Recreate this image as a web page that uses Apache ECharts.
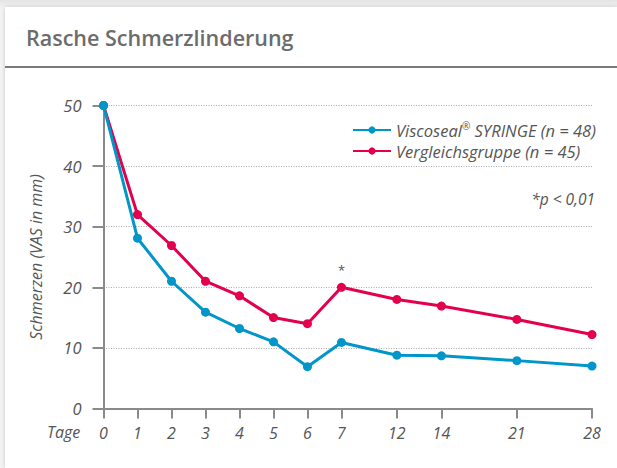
<!DOCTYPE html>
<html>
<head>
<meta charset="utf-8">
<script src="https://cdn.jsdelivr.net/npm/echarts@6/dist/echarts.min.js"></script>
<style>
  html, body { margin: 0; padding: 0; width: 617px; height: 468px; overflow: hidden;
    background: linear-gradient(#e4e4e4, #f3f3f3 8px); }
  #card { position: absolute; left: 5px; top: 7px; width: 612px; height: 461px; background: #fff;
    box-shadow: 0 0 4px rgba(0,0,0,0.18); }
  #chart { position: absolute; left: 0; top: 0; width: 617px; height: 468px; }
</style>
</head>
<body>
<div id="card"></div>
<div id="chart"></div>
<script>
// Days (tick labels) and their slot positions along the non-uniform axis of the original
const tage = ['0', '1', '2', '3', '4', '5', '6', '7', '12', '14', '21', '28'];
const tagSlots = [0, 1, 2, 3, 4, 5, 6, 7, 8.63, 9.94, 12.16, 14.37];
const viscoseal = [50, 28.1, 21.0, 15.9, 13.2, 11.0, 6.9, 10.9, 8.8, 8.7, 7.9, 7.0];
const vergleich = [50, 32.0, 26.9, 21.0, 18.6, 15.0, 14.0, 20.0, 18.0, 16.9, 14.7, 12.2];
const yTicks = [0, 10, 20, 30, 40, 50];
const seriesNames = ['Viscoseal® SYRINGE (n=48)', 'Vergleichsgruppe (n=45)'];
const significantIndex = 7;

const FONT = "'Open Sans', 'DejaVu Sans', sans-serif";
const GREY = '#555';
const AXIS = '#8a8a8a';
const BLUE = '#0096c9';
const RED = '#e3004d';

const chart = echarts.init(document.getElementById('chart'), null, { renderer: 'svg' });

function pairs(vals) { return vals.map((v, i) => [tagSlots[i], v]); }

const redData = pairs(vergleich).map((p, i) => i === significantIndex
  ? { value: p, label: { show: true, formatter: '*', position: 'top', distance: 6, color: GREY, fontSize: 13, fontFamily: FONT } }
  : p);

const legendText = { fontFamily: FONT, fontSize: 16.5, fontStyle: 'italic', color: GREY };

chart.setOption({
  animation: false,
  title: [
    { text: 'Rasche Schmerzlinderung', left: 21, top: 21,
      textStyle: { fontFamily: FONT, fontSize: 21.5, fontWeight: 600, color: '#6c6c6c' } },
    { text: '*p < 0,01', right: 17, top: 186,
      textStyle: { fontFamily: FONT, fontSize: 15.5, fontStyle: 'italic', fontWeight: 'normal', color: GREY } }
  ],
  graphic: [
    { type: 'line', shape: { x1: 5, y1: 67, x2: 617, y2: 67 }, style: { stroke: '#7a7a7a', lineWidth: 2 } },
    { type: 'text', left: 47, top: 424, style: { text: 'Tage', font: 'italic 16px ' + FONT, fill: GREY } }
  ],
  legend: {
    orient: 'vertical', left: 347, top: 116, itemWidth: 38, itemHeight: 9, itemGap: 3,
    data: seriesNames,
    formatter: name => name.replace('®', '{sup|®}').replace('=', ' = '),
    textStyle: Object.assign({}, legendText, {
      lineHeight: 18,
      rich: { sup: { fontFamily: FONT, fontSize: 10, fontStyle: 'italic', color: GREY, verticalAlign: 'top', lineHeight: 18, padding: [0, 0, 6, 0] } }
    })
  },
  grid: { left: 103.5, right: 25, top: 105.5, bottom: 59.5, containLabel: false },
  xAxis: {
    type: 'value', min: 0, max: tagSlots[tagSlots.length - 1],
    axisLine: { show: true, lineStyle: { color: AXIS, width: 2 } },
    axisTick: { show: true, length: 10, customValues: tagSlots, lineStyle: { color: AXIS, width: 2 } },
    axisLabel: {
      customValues: tagSlots, margin: 16,
      formatter: v => { const i = tagSlots.findIndex(s => Math.abs(s - v) < 1e-6); return i >= 0 ? tage[i] : ''; },
      fontFamily: FONT, fontSize: 16, fontStyle: 'italic', color: GREY
    },
    splitLine: { show: false }
  },
  yAxis: {
    type: 'value', min: yTicks[0], max: yTicks[yTicks.length - 1], interval: 10,
    name: 'Schmerzen (VAS in mm)', nameLocation: 'middle', nameGap: 60, nameRotate: 90,
    nameTextStyle: { fontFamily: FONT, fontSize: 16, fontStyle: 'italic', color: GREY },
    axisLine: { show: true, lineStyle: { color: AXIS, width: 2 } },
    axisTick: { show: true, length: 11, lineStyle: { color: AXIS, width: 2 } },
    axisLabel: { margin: 22, fontFamily: FONT, fontSize: 16.5, fontStyle: 'italic', color: GREY },
    splitLine: { show: true, lineStyle: { color: '#aaa', type: [1, 1.5], width: 1 } }
  },
  series: [
    { name: seriesNames[1], type: 'line', data: redData, symbol: 'circle', symbolSize: 9,
      color: RED, lineStyle: { width: 3, color: RED }, itemStyle: { color: RED } },
    { name: seriesNames[0], type: 'line', data: pairs(viscoseal), symbol: 'circle', symbolSize: 9,
      color: BLUE, lineStyle: { width: 3, color: BLUE }, itemStyle: { color: BLUE } }
  ]
});
</script>
</body>
</html>
